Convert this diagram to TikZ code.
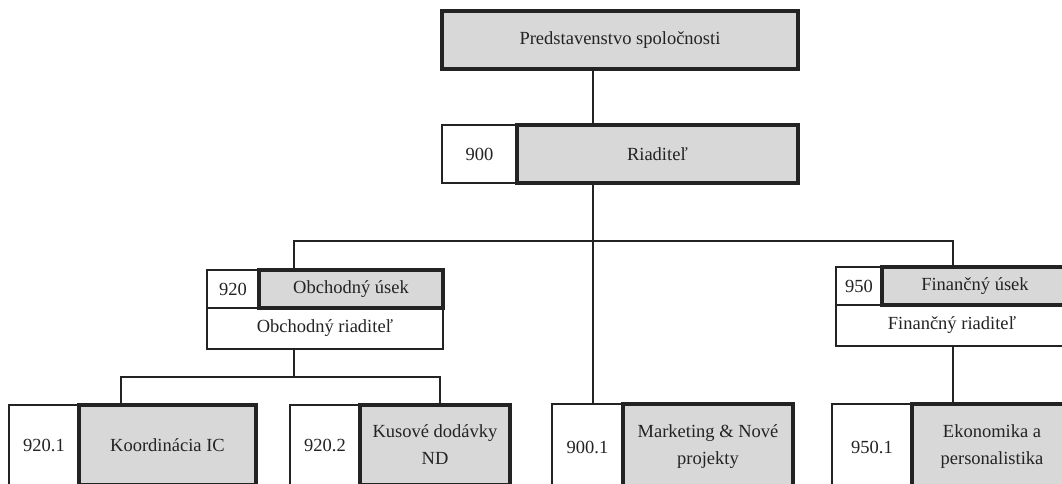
\documentclass[tikz,border=0pt]{standalone}
\usepackage{fontspec}
\setmainfont{Liberation Serif}
\definecolor{boxgray}{RGB}{216,216,216}
\definecolor{ink}{RGB}{35,35,35}
\begin{document}
\begin{tikzpicture}[x=1pt,y=-1pt,
  every node/.style={inner sep=0pt, outer sep=0pt, font=\fontsize{18.5}{27}\selectfont, text=ink, align=center},
  graybox/.style={draw=ink, line width=3.2pt, fill=boxgray},
  whitebox/.style={draw=ink, line width=2pt, fill=white},
  conn/.style={draw=ink, line width=2pt}]
\useasboundingbox (0,0) rectangle (1062,483);
\clip (0,0) rectangle (1062,483);
% top
\node[graybox, minimum width=356pt, minimum height=58pt] (top) at (620,40) {Predstavenstvo spoločnosti};
% director
\node[whitebox, minimum width=75pt, minimum height=58pt] (dirnum) at (479.5,154) {900};
\node[graybox, minimum width=281pt, minimum height=58pt] (dir) at (657.5,154) {Riaditeľ};
% 920 block
\node[whitebox, minimum width=52pt, minimum height=38pt] (obnum) at (233,289) {920};
\node[whitebox, minimum width=236pt, minimum height=41pt] (obdir) at (325,328.5) {Obchodný riaditeľ};
\node[graybox, minimum width=184pt, minimum height=38pt] (ob) at (351,289) {Obchodný úsek};
% 950 block
\node[whitebox, minimum width=46pt, minimum height=38pt] (finnum) at (859,286) {950};
\node[whitebox, minimum width=232pt, minimum height=41pt] (findir) at (952,325.5) {Finančný riaditeľ};
\node[graybox, minimum width=186pt, minimum height=38pt] (fin) at (975,286) {Finančný úsek};
% bottom row
\node[whitebox, minimum width=70pt, minimum height=80pt] (k1num) at (44,445) {920.1};
\node[graybox, minimum width=177pt, minimum height=80pt] (k1) at (167.5,445) {Koordinácia IC};
\node[whitebox, minimum width=70pt, minimum height=80pt] (k2num) at (325,445) {920.2};
\node[graybox, minimum width=150pt, minimum height=80pt] (k2) at (435,445) {Kusové dodávky\\ND};
\node[whitebox, minimum width=71pt, minimum height=86pt] (mnum) at (587.5,447) {900.1};
\node[graybox, minimum width=170pt, minimum height=86pt] (m) at (708,447) {Marketing \& Nové\\projekty};
\node[whitebox, minimum width=80pt, minimum height=86pt] (enum) at (872,447) {950.1};
\node[graybox, minimum width=160pt, minimum height=86pt] (e) at (992,447) {Ekonomika a\\personalistika};
% bus coordinates
\coordinate (xa) at (593,0);
\coordinate (busL) at (294,241);
\coordinate (busR) at (953,241);
\coordinate (obL) at (121,377);
\coordinate (obR) at (440,377);
% connectors
\draw[conn] (top.south -| xa) -- (dir.north -| xa);
\draw[conn] (dir.south -| xa) -- (m.north -| xa);
\draw[conn] (ob.north -| busL) -- (busL) -- (busR) -- (fin.north -| busR);
\draw[conn] (obdir.south -| busL) -- (busL |- obL);
\draw[conn] (k1.north -| obL) -- (obL) -- (obR) -- (k2.north -| obR);
\draw[conn] (findir.south -| busR) -- (e.north -| busR);
\end{tikzpicture}
\end{document}
